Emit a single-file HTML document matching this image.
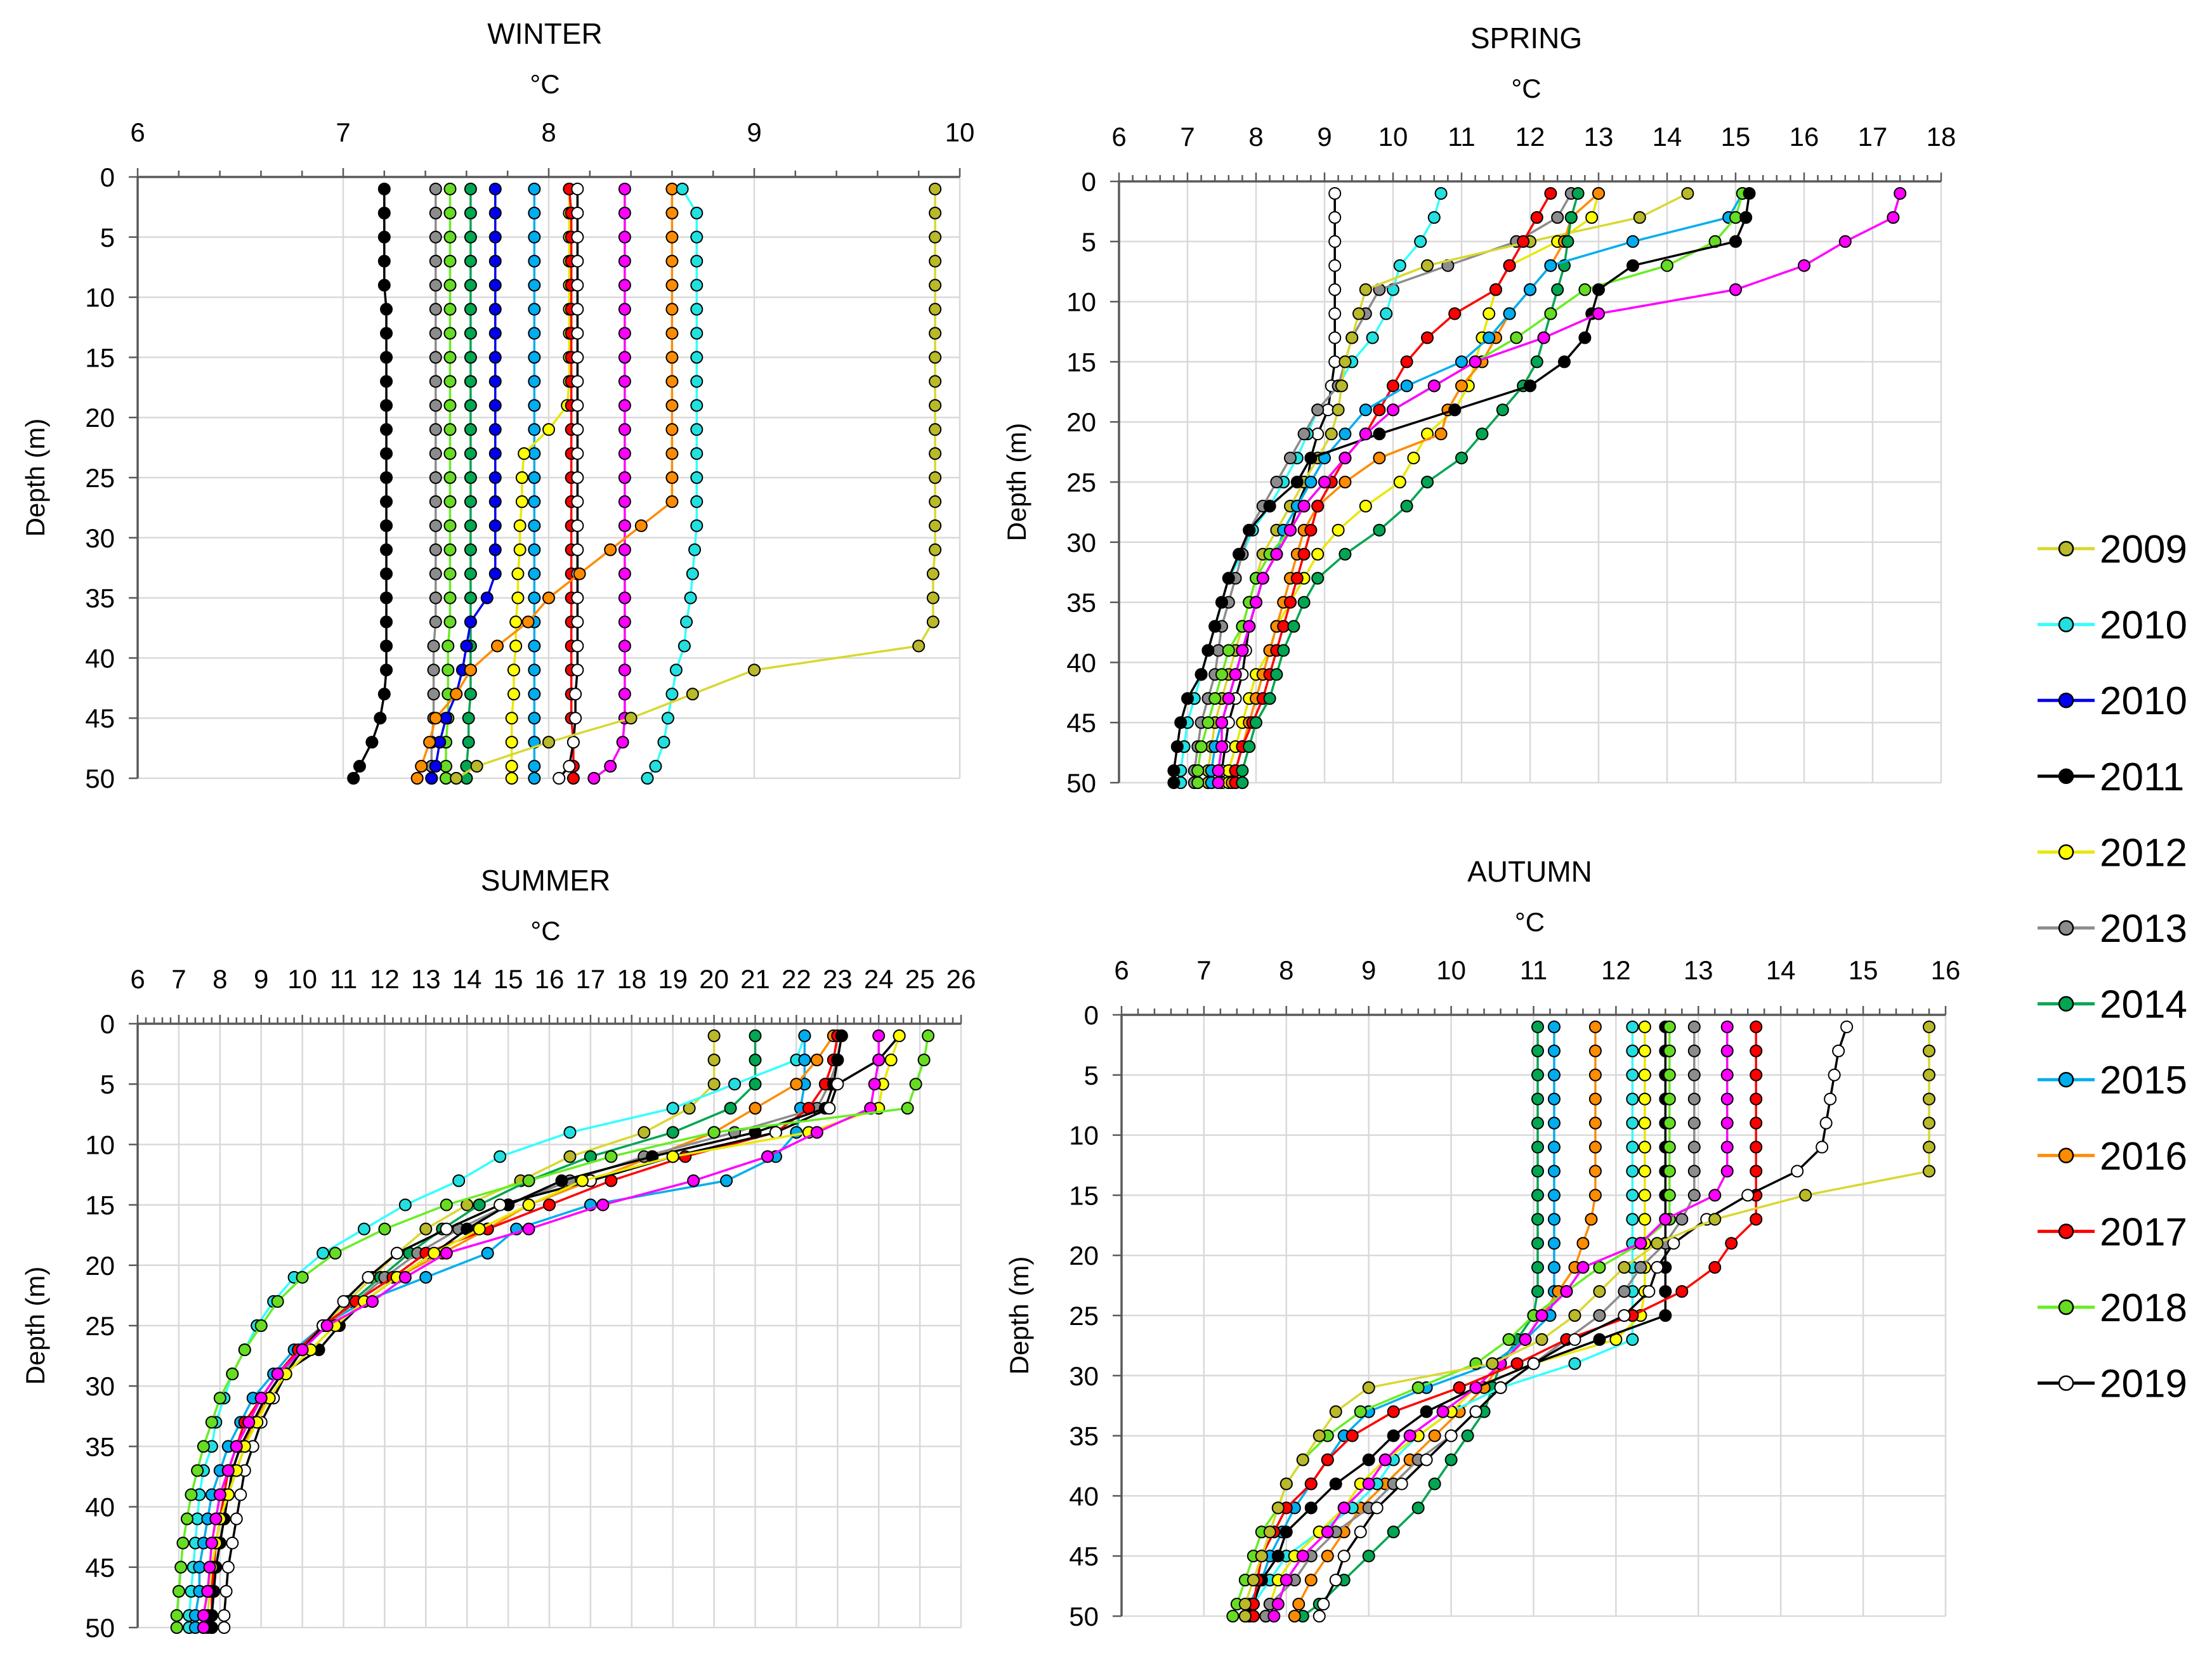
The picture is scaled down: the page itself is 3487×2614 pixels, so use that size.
<!DOCTYPE html>
<html><head><meta charset="utf-8">
<style>
html,body{margin:0;padding:0;background:#fff;}
svg{display:block;font-family:"Liberation Sans",sans-serif;}
</style></head>
<body>
<svg id="chart" xmlns="http://www.w3.org/2000/svg" width="3487" height="2614" viewBox="0 0 3487 2614"></svg>
<script>
const depths = [1,3,5,7,9,11,13,15,17,19,21,23,25,27,29,31,33,35,37,39,41,43,45,47,49,50];
const legendYears = ["2009","2010","2010","2011","2012","2013","2014","2015","2016","2017","2018","2019"];

// WINTER
const w2009 = [9.88,9.88,9.88,9.88,9.88,9.88,9.88,9.88,9.88,9.88,9.88,9.88,9.88,9.88,9.88,9.88,9.87,9.87,9.87,9.8,9.0,8.7,8.4,8.0,7.65,7.55];
const w2010c = [8.65,8.72,8.72,8.72,8.72,8.72,8.72,8.72,8.72,8.72,8.72,8.72,8.72,8.72,8.72,8.71,8.7,8.69,8.67,8.66,8.62,8.6,8.58,8.56,8.52,8.48];
const w2010b = [7.74,7.74,7.74,7.74,7.74,7.74,7.74,7.74,7.74,7.74,7.74,7.74,7.74,7.74,7.74,7.74,7.74,7.7,7.62,7.6,7.58,7.55,7.5,7.47,7.45,7.43];
const w2011 = [7.2,7.2,7.2,7.2,7.2,7.21,7.21,7.21,7.21,7.21,7.21,7.21,7.21,7.21,7.21,7.21,7.21,7.21,7.21,7.21,7.21,7.2,7.18,7.14,7.08,7.05];
const w2012 = [8.1,8.1,8.1,8.1,8.1,8.1,8.1,8.1,8.1,8.09,8.0,7.88,7.87,7.87,7.86,7.86,7.85,7.85,7.84,7.84,7.83,7.83,7.82,7.82,7.82,7.82];
const w2013 = [7.45,7.45,7.45,7.45,7.45,7.45,7.45,7.45,7.45,7.45,7.45,7.45,7.45,7.45,7.45,7.45,7.45,7.45,7.45,7.44,7.44,7.44,7.44,7.43,7.43,7.43];
const w2014 = [7.62,7.62,7.62,7.62,7.62,7.62,7.62,7.62,7.62,7.62,7.62,7.62,7.62,7.62,7.62,7.62,7.62,7.62,7.62,7.62,7.62,7.62,7.61,7.61,7.6,7.6];
const w2015 = [7.93,7.93,7.93,7.93,7.93,7.93,7.93,7.93,7.93,7.93,7.93,7.93,7.93,7.93,7.93,7.93,7.93,7.93,7.93,7.93,7.93,7.93,7.93,7.93,7.93,7.93];
const w2016 = [8.6,8.6,8.6,8.6,8.6,8.6,8.6,8.6,8.6,8.6,8.6,8.6,8.6,8.6,8.45,8.3,8.15,8.0,7.9,7.75,7.62,7.55,7.45,7.42,7.38,7.36];
const w2017 = [8.1,8.11,8.11,8.11,8.11,8.11,8.11,8.11,8.11,8.11,8.11,8.11,8.11,8.11,8.11,8.11,8.11,8.11,8.11,8.11,8.11,8.11,8.11,8.12,8.12,8.12];
const w2018 = [7.52,7.52,7.52,7.52,7.52,7.52,7.52,7.52,7.52,7.52,7.52,7.52,7.52,7.52,7.52,7.52,7.52,7.52,7.52,7.51,7.51,7.51,7.51,7.5,7.5,7.5];
const w2019 = [8.14,8.14,8.14,8.14,8.14,8.14,8.14,8.14,8.14,8.14,8.14,8.14,8.14,8.14,8.14,8.14,8.14,8.14,8.14,8.14,8.14,8.13,8.13,8.12,8.1,8.05];
const wMag = [8.37,8.37,8.37,8.37,8.37,8.37,8.37,8.37,8.37,8.37,8.37,8.37,8.37,8.37,8.37,8.37,8.37,8.37,8.37,8.37,8.37,8.37,8.37,8.36,8.3,8.22];

// SPRING
const s2009 = [14.3,13.6,12.0,10.5,9.6,9.5,9.4,9.3,9.25,9.2,9.1,8.9,8.7,8.5,8.3,8.1,8.0,7.9,7.8,7.7,7.6,7.5,7.4,7.35,7.3,7.3];
const s2010c = [10.7,10.6,10.4,10.1,10.0,9.9,9.7,9.4,9.2,8.9,8.75,8.6,8.4,8.2,7.95,7.8,7.6,7.5,7.4,7.3,7.2,7.1,7.0,6.95,6.9,6.9];
const s2011 = [15.2,15.15,15.0,13.5,13.0,12.9,12.8,12.5,12.0,10.9,9.8,8.8,8.6,8.2,7.9,7.75,7.6,7.5,7.4,7.3,7.2,7.0,6.9,6.85,6.8,6.8];
const s2012 = [13.0,12.9,12.4,11.7,11.5,11.4,11.3,11.2,11.1,10.9,10.5,10.3,10.1,9.6,9.2,8.9,8.7,8.5,8.3,8.2,8.0,7.9,7.8,7.7,7.6,7.6];
const s2013 = [12.6,12.4,11.8,10.8,9.8,9.6,9.4,9.3,9.2,8.9,8.7,8.5,8.3,8.1,7.9,7.8,7.7,7.6,7.5,7.45,7.4,7.3,7.2,7.15,7.1,7.1];
const s2014 = [12.7,12.6,12.55,12.5,12.4,12.3,12.2,12.1,11.9,11.6,11.3,11.0,10.5,10.2,9.8,9.3,8.9,8.7,8.55,8.4,8.3,8.2,8.0,7.9,7.8,7.8];
const s2015 = [15.1,14.9,13.5,12.3,12.0,11.7,11.4,11.0,10.2,9.6,9.3,9.0,8.8,8.6,8.4,8.3,8.1,8.0,7.9,7.8,7.7,7.6,7.5,7.4,7.35,7.35];
const s2016 = [13.0,12.6,12.5,12.3,12.0,11.7,11.5,11.3,11.0,10.8,10.7,9.8,9.3,8.9,8.7,8.6,8.5,8.4,8.3,8.2,8.1,8.0,7.9,7.8,7.7,7.65];
const s2017 = [12.3,12.1,11.9,11.7,11.5,10.9,10.5,10.2,10.0,9.8,9.6,9.3,9.1,8.9,8.8,8.7,8.6,8.5,8.4,8.3,8.2,8.1,7.95,7.8,7.7,7.7];
const s2018 = [15.1,15.0,14.7,14.0,12.8,12.3,11.8,11.2,10.6,10.0,9.6,9.3,9.0,8.7,8.5,8.2,8.0,7.9,7.8,7.6,7.5,7.4,7.3,7.2,7.15,7.15];
const s2019 = [9.15,9.15,9.15,9.15,9.15,9.15,9.15,9.15,9.1,9.05,8.9,8.8,8.75,8.6,8.5,8.3,8.1,8.0,7.9,7.85,7.8,7.7,7.6,7.55,7.5,7.5];
const sMag = [17.4,17.3,16.6,16.0,15.0,13.0,12.2,11.2,10.6,10.0,9.6,9.3,9.0,8.7,8.5,8.3,8.1,8.0,7.9,7.8,7.7,7.6,7.5,7.5,7.45,7.45];

// SUMMER
const u2009 = [20.0,20.0,20.0,19.4,18.3,16.5,15.3,14.0,13.0,12.3,11.7,11.1,10.5,10.0,9.5,9.1,8.8,8.6,8.4,8.2,8.0,7.9,7.8,7.75,7.7,7.7];
const u2010c = [22.2,22.0,20.5,19.0,16.5,14.8,13.8,12.5,11.5,10.5,9.8,9.3,8.9,8.6,8.3,8.1,7.9,7.8,7.6,7.5,7.45,7.4,7.35,7.3,7.25,7.25];
const u2011 = [23.1,23.0,22.9,22.7,21.0,18.5,16.3,15.0,14.0,13.2,12.3,11.5,10.9,10.4,9.5,9.1,8.8,8.5,8.3,8.2,8.1,8.0,7.9,7.85,7.8,7.8];
const u2012 = [24.5,24.3,24.1,24.0,22.3,19.0,16.8,15.5,14.3,13.2,12.3,11.5,10.8,10.2,9.6,9.2,8.9,8.6,8.4,8.2,8.0,7.9,7.8,7.7,7.6,7.6];
const u2013 = [23.1,23.0,22.8,22.5,20.5,18.3,16.5,15.0,13.8,12.8,12.0,11.3,10.6,10.0,9.5,9.1,8.8,8.5,8.3,8.2,8.1,8.0,7.9,7.85,7.8,7.8];
const u2014 = [21.0,21.0,21.0,20.4,19.0,17.0,15.5,14.3,13.4,12.6,11.9,11.2,10.6,10.0,9.5,9.1,8.8,8.6,8.4,8.2,8.1,8.0,7.9,7.85,7.8,7.8];
const u2015 = [22.2,22.2,22.2,22.1,22.0,21.5,20.3,17.0,15.2,14.5,13.0,11.5,10.5,9.8,9.3,8.8,8.5,8.2,8.0,7.8,7.7,7.6,7.5,7.5,7.4,7.4];
const u2016 = [22.9,22.5,22.0,21.0,20.0,18.5,17.0,15.5,14.5,13.4,12.3,11.5,10.8,10.2,9.6,9.2,8.8,8.6,8.4,8.2,8.1,8.0,7.9,7.85,7.8,7.8];
const u2017 = [23.0,22.9,22.7,22.3,21.5,19.3,17.5,16.0,14.5,13.0,12.2,11.3,10.5,9.9,9.4,9.0,8.6,8.4,8.2,8.1,8.0,7.9,7.85,7.8,7.8,7.8];
const u2018 = [25.2,25.1,24.9,24.7,20.0,17.5,15.5,13.5,12.0,10.8,10.0,9.4,9.0,8.6,8.3,8.0,7.8,7.6,7.45,7.3,7.2,7.1,7.05,7.0,6.95,6.95];
const u2019 = [24.5,24.0,23.0,22.8,21.5,19.0,17.0,14.8,13.5,12.3,11.6,11.0,10.5,10.0,9.6,9.3,9.0,8.8,8.6,8.5,8.4,8.3,8.2,8.15,8.1,8.1];
const uMag = [24.0,24.0,23.9,23.8,22.5,21.3,19.5,17.3,15.5,13.5,12.5,11.7,10.6,10.0,9.4,9.0,8.7,8.4,8.2,8.0,7.9,7.8,7.75,7.7,7.6,7.6];

// AUTUMN
const a2009 = [15.8,15.8,15.8,15.8,15.8,15.8,15.8,14.3,13.2,12.5,12.1,11.8,11.5,11.1,10.5,9.0,8.6,8.4,8.2,8.0,7.9,7.8,7.7,7.6,7.5,7.5];
const a2010c = [12.2,12.2,12.2,12.2,12.2,12.2,12.2,12.2,12.2,12.2,12.2,12.2,12.2,12.2,11.5,10.6,10.0,9.6,9.3,9.1,8.8,8.4,8.0,7.8,7.6,7.55];
const a2011 = [12.6,12.6,12.6,12.6,12.6,12.6,12.6,12.6,12.6,12.6,12.6,12.6,12.6,11.8,11.0,10.3,9.7,9.3,9.0,8.6,8.3,8.0,7.9,7.7,7.6,7.55];
const a2012 = [12.35,12.35,12.35,12.35,12.35,12.35,12.35,12.35,12.35,12.35,12.35,12.35,12.3,12.0,11.0,10.3,10.0,9.6,9.2,8.9,8.7,8.4,8.1,7.9,7.8,7.75];
const a2013 = [12.95,12.95,12.95,12.95,12.95,12.95,12.95,12.95,12.8,12.6,12.3,12.1,11.8,11.4,11.0,10.6,10.3,10.0,9.6,9.3,9.0,8.6,8.3,8.1,7.8,7.75];
const a2014 = [11.05,11.05,11.05,11.05,11.05,11.05,11.05,11.05,11.05,11.05,11.05,11.05,11.0,10.8,10.6,10.5,10.4,10.2,10.0,9.8,9.6,9.3,9.0,8.7,8.4,8.2];
const a2015 = [11.25,11.25,11.25,11.25,11.25,11.25,11.25,11.25,11.25,11.25,11.25,11.25,11.2,10.9,10.5,9.7,9.0,8.7,8.5,8.3,8.1,7.95,7.8,7.7,7.55,7.5];
const a2016 = [11.75,11.75,11.75,11.75,11.75,11.75,11.75,11.75,11.7,11.6,11.5,11.3,11.1,10.9,10.6,10.4,10.1,9.8,9.5,9.2,8.9,8.7,8.5,8.3,8.15,8.1];
const a2017 = [13.7,13.7,13.7,13.7,13.7,13.7,13.7,13.7,13.7,13.4,13.2,12.8,12.2,11.4,10.8,10.1,9.3,8.8,8.5,8.3,8.0,7.85,7.7,7.65,7.6,7.6];
const a2018 = [12.65,12.65,12.65,12.65,12.65,12.65,12.65,12.65,12.65,12.3,11.8,11.4,11.0,10.7,10.3,9.6,8.9,8.5,8.2,8.0,7.9,7.7,7.6,7.5,7.4,7.35];
const a2019 = [14.8,14.7,14.65,14.6,14.55,14.5,14.2,13.6,13.1,12.7,12.5,12.4,12.1,11.5,11.0,10.6,10.3,10.0,9.7,9.4,9.1,8.9,8.7,8.6,8.45,8.4];
const aMag = [13.35,13.35,13.35,13.35,13.35,13.35,13.35,13.2,12.6,12.3,11.6,11.4,11.1,10.9,10.6,10.3,9.9,9.5,9.2,9.0,8.7,8.5,8.2,8.0,7.9,7.85];

const STY = {
  y2009:{fill:"#b9b92a",line:"#d8d830"}, y2010c:{fill:"#22e0e0",line:"#33ffff"}, y2010b:{fill:"#0000ee",line:"#0000ee"},
  y2011:{fill:"#000",line:"#000"}, y2012:{fill:"#ffff00",line:"#e8e800"}, y2013:{fill:"#8c8c8c",line:"#8c8c8c"},
  y2014:{fill:"#00a651",line:"#00a651"}, y2015:{fill:"#00aeef",line:"#00aeef"}, y2016:{fill:"#ff8c00",line:"#ff8c00"},
  y2017:{fill:"#ff0000",line:"#ff0000"}, y2018:{fill:"#66dd22",line:"#66ee22"}, y2019:{fill:"#fff",line:"#000"},
  mag:{fill:"#ff00ff",line:"#ff00ff"}
};
const legendKeys = ["y2009","y2010c","y2010b","y2011","y2012","y2013","y2014","y2015","y2016","y2017","y2018","y2019"];

const panels = [
  {name:"winter",title:"WINTER",min:6,max:10,step:1,minor:0.2,x0:217,x1:1513,y0:279,y1:1227,
   series:[["y2011",w2011],["y2013",w2013],["y2018",w2018],["y2014",w2014],["y2010b",w2010b],["y2015",w2015],["y2012",w2012],["y2017",w2017],["y2019",w2019],["mag",wMag],["y2016",w2016],["y2010c",w2010c],["y2009",w2009]]},
  {name:"spring",title:"SPRING",min:6,max:18,step:1,minor:0.2,x0:1764,x1:3060,y0:286,y1:1234,
   series:[["y2019",s2019],["y2010c",s2010c],["y2013",s2013],["y2009",s2009],["y2012",s2012],["y2016",s2016],["y2017",s2017],["y2014",s2014],["y2015",s2015],["y2018",s2018],["y2011",s2011],["mag",sMag]]},
  {name:"summer",title:"SUMMER",min:6,max:26,step:1,minor:0.2,x0:217,x1:1515,y0:1614,y1:2566,
   series:[["y2009",u2009],["y2014",u2014],["y2010c",u2010c],["y2015",u2015],["y2016",u2016],["y2013",u2013],["y2017",u2017],["y2011",u2011],["y2019",u2019],["y2012",u2012],["mag",uMag],["y2018",u2018]]},
  {name:"autumn",title:"AUTUMN",min:6,max:16,step:1,minor:0.2,x0:1768,x1:3067,y0:1600,y1:2548,
   series:[["y2014",a2014],["y2015",a2015],["y2016",a2016],["y2010c",a2010c],["y2012",a2012],["y2011",a2011],["y2018",a2018],["y2013",a2013],["mag",aMag],["y2017",a2017],["y2019",a2019],["y2009",a2009]]}
];

const svg = document.getElementById('chart');
const NS = "http://www.w3.org/2000/svg";
function mk(tag, attrs, parent){const e=document.createElementNS(NS,tag);for(const k in attrs)e.setAttribute(k,attrs[k]);(parent||svg).appendChild(e);return e;}

panels.forEach(p=>{
  const g = mk('g',{});
  
  
  const xs = v => p.x0 + (v-p.min)/(p.max-p.min)*(p.x1-p.x0);
  const ys = d => p.y0 + d/50*(p.y1-p.y0);
  const cx = (p.x0+p.x1)/2;
  // gridlines
  for(let v=p.min+p.step; v<=p.max+1e-9; v+=p.step){
    const l = mk('line',{x1:xs(v),x2:xs(v),y1:p.y0,y2:p.y1,stroke:"#d9d9d9","stroke-width":2.5},g);
    
    
  }
  for(let d=5; d<=50; d+=5){
    const l = mk('line',{x1:p.x0,x2:p.x1,y1:ys(d),y2:ys(d),stroke:"#d9d9d9","stroke-width":2.5},g);
    
    
  }
  // axes
  const ax = mk('line',{x1:p.x0,x2:p.x1,y1:p.y0,y2:p.y0,stroke:"#595959","stroke-width":3.5},g);
  
  
  const ay = mk('line',{x1:p.x0,x2:p.x0,y1:p.y0,y2:p.y1,stroke:"#595959","stroke-width":3.5},g);
  
  
  const nMinor = Math.round((p.max-p.min)/p.minor);
  for(let i=0;i<=nMinor;i++){
    const v=p.min+i*p.minor; const major = Math.abs(v-Math.round(v))<1e-6;
    mk('line',{x1:xs(v),x2:xs(v),y1:p.y0-(major?14:10),y2:p.y0,stroke:"#595959","stroke-width":2.5},g);
  }
  for(let d=0; d<=50; d+=5){
    mk('line',{x1:p.x0-14,x2:p.x0,y1:ys(d),y2:ys(d),stroke:"#595959","stroke-width":2.5},g);
    const t = mk('text',{x:p.x0-36,y:ys(d)+15,"text-anchor":"end","font-size":42,fill:"#000"},g);
    t.textContent = d;
    
    
  }
  for(let v=p.min; v<=p.max+1e-9; v+=p.step){
    const t = mk('text',{x:xs(v),y:p.y0-56,"text-anchor":"middle","font-size":42,fill:"#000"},g);
    t.textContent = v;
    
    
  }
  const tt = mk('text',{x:cx-6,y:p.y0-210,"text-anchor":"middle","font-size":46,fill:"#000"},g);
  tt.textContent = p.title;
  
  
  const xt = mk('text',{x:cx-6,y:p.y0-132,"text-anchor":"middle","font-size":42,fill:"#000"},g);
  xt.textContent = "°C";
  
  
  const yl = mk('text',{x:0,y:0,"text-anchor":"middle","font-size":42,fill:"#000",transform:`translate(${p.x0-147},${(p.y0+p.y1)/2}) rotate(-90)`},g);
  yl.textContent = "Depth (m)";
  
  
  // series
  p.series.forEach(([key,vals])=>{
    const st = STY[key];
    const sg = mk('g',{},g);
    
    
    const pts = vals.map((v,i)=>xs(v)+','+ys(depths[i])).join(' ');
    mk('polyline',{points:pts,fill:"none",stroke:st.line,"stroke-width":3.5},sg);
    vals.forEach((v,i)=>{
      const c = mk('circle',{cx:xs(v),cy:ys(depths[i]),r:9,fill:st.fill,stroke:"#000","stroke-width":2},sg);
      
      
    });
  });
});

// legend
const lg = mk('g',{});


legendKeys.forEach((k,i)=>{
  const y = 865 + i*119.6;
  const st = STY[k];
  const e = mk('g',{},lg);
  
  
  mk('line',{x1:3212,x2:3302,y1:y,y2:y,stroke:st.line,"stroke-width":5},e);
  mk('circle',{cx:3257,cy:y,r:11,fill:st.fill,stroke:"#000","stroke-width":2.5},e);
  const t = mk('text',{x:3310,y:y+22,"font-size":62,fill:"#000"},e);
  t.textContent = legendYears[i];
});
</script>
</body></html>
